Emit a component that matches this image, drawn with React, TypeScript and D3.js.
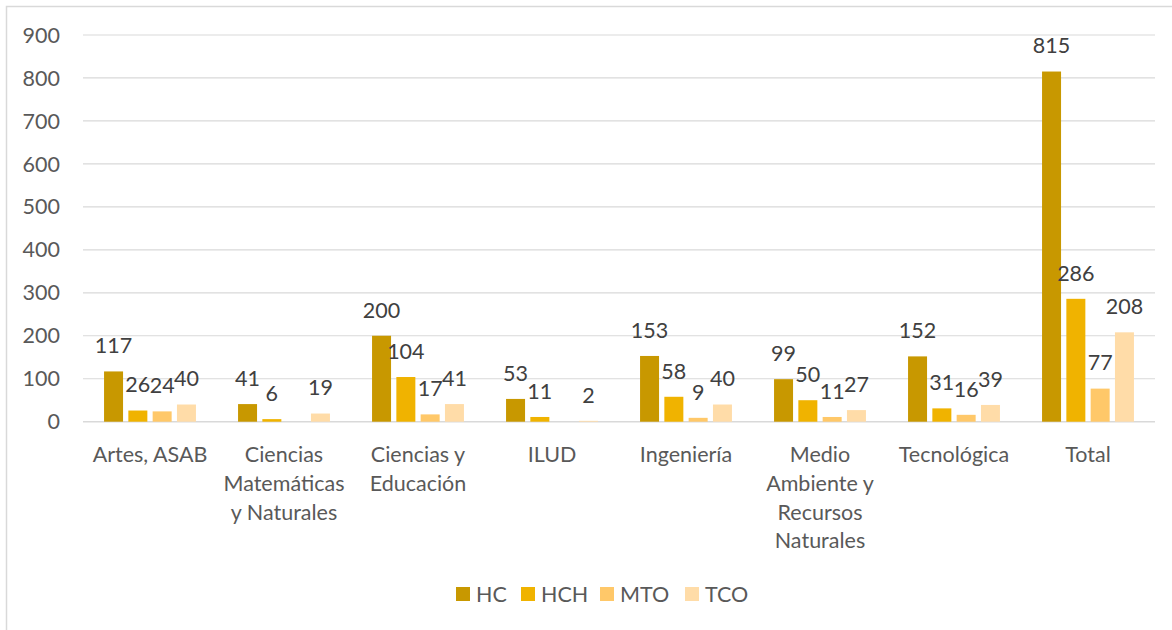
import React from "react";
import * as d3 from "d3";

const categories: string[][] = [
  ["Artes, ASAB"],
  ["Ciencias", "Matemáticas", "y Naturales"],
  ["Ciencias y", "Educación"],
  ["ILUD"],
  ["Ingeniería"],
  ["Medio", "Ambiente y", "Recursos", "Naturales"],
  ["Tecnológica"],
  ["Total"],
];
const seriesNames = ["HC", "HCH", "MTO", "TCO"];
const HC = [117, 41, 200, 53, 153, 99, 152, 815];
const HCH = [26, 6, 104, 11, 58, 50, 31, 286];
const MTO: (number | null)[] = [24, null, 17, null, 9, 11, 16, 77];
const TCO = [40, 19, 41, 2, 40, 27, 39, 208];
const yTicks = [0, 100, 200, 300, 400, 500, 600, 700, 800, 900];
const colors = ["#C89800", "#F0B300", "#FFC869", "#FFDCA8"];

const legendX = [456, 521, 600, 685];

export default function App() {
  const W = 1172, H = 630;
  const left = 83, right = 1155, top = 35, bottom = 421.7;
  const series = [HC, HCH, MTO, TCO];
  const idx = categories.map((_, i) => i);
  const x = d3.scaleBand<number>().domain(idx).range([left, right]).paddingInner(0).paddingOuter(0);
  const y = d3.scaleLinear().domain([0, 900]).range([bottom, top]);
  const step = 24.3, bw = 19;
  const font = "Lato, 'Open Sans', sans-serif";
  const fs = 21.5;
  return (
    <svg width={W} height={H} style={{ position: "absolute", left: 0, top: 0, background: "#fff" }} fontFamily={font}>
      <rect x={6.5} y={6.5} width={1300} height={700} fill="#fff" stroke="#D9D9D9" strokeWidth={1.5} />
      {yTicks.map((t) => (
        <g key={t}>
          <line x1={left} x2={right} y1={y(t)} y2={y(t)} stroke="#D9D9D9" strokeWidth={t === 0 ? 1.5 : 1.2} />
          <text x={60} y={y(t) + 7.6} textAnchor="end" fontSize={fs} fill="#595959">{t}</text>
        </g>
      ))}
      {series.map((s, si) =>
        s.map((v, ci) => {
          if (v === null || v === undefined) return null;
          const cx = x(ci)! + x.bandwidth() / 2 + (si - 1.5) * step;
          return (
            <g key={`${si}-${ci}`}>
              <rect x={cx - bw / 2} y={y(v)} width={bw} height={bottom - y(v)} fill={colors[si]} />
              <text x={cx} y={y(v) - 18.2} textAnchor="middle" fontSize={fs} fill="#404040">{v}</text>
            </g>
          );
        })
      )}
      {categories.map((lines, ci) => (
        <text key={ci} x={x(ci)! + x.bandwidth() / 2} y={462} textAnchor="middle" fontSize={fs} fill="#595959">
          {lines.map((l, li) => (
            <tspan key={li} x={x(ci)! + x.bandwidth() / 2} dy={li === 0 ? 0 : 28.8}>{l}</tspan>
          ))}
        </text>
      ))}
      {seriesNames.map((n, i) => (
        <g key={n}>
          <rect x={legendX[i]} y={587} width={14} height={14} fill={colors[i]} />
          <text x={legendX[i] + 20} y={602} fontSize={fs} fill="#595959">{n}</text>
        </g>
      ))}
    </svg>
  );
}
